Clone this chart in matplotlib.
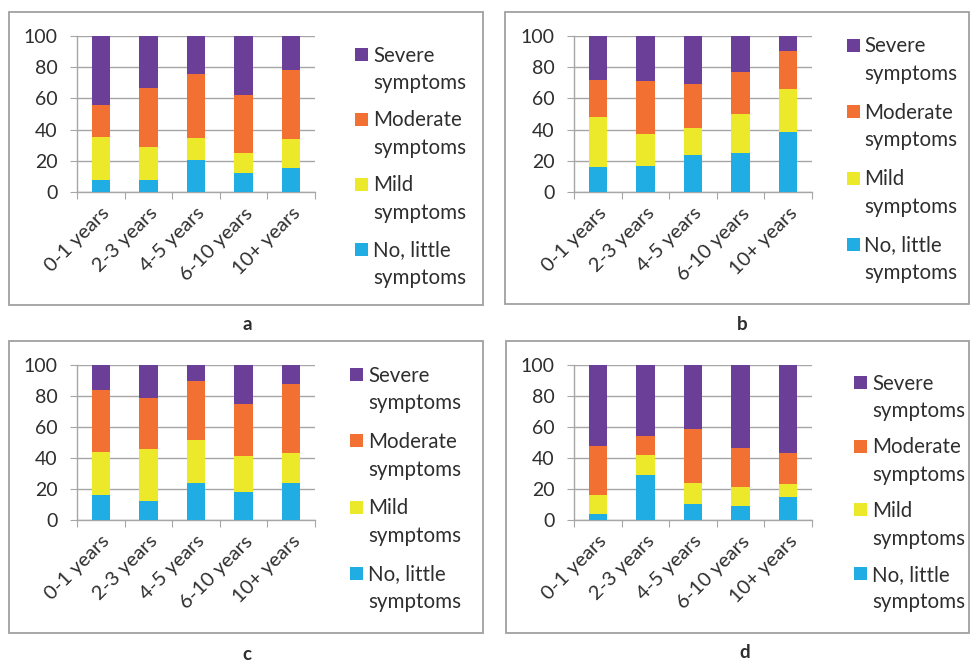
import matplotlib
matplotlib.use("Agg")
import matplotlib.pyplot as plt
from matplotlib.patches import Rectangle

# data: share of respondents (%) per symptom level, stacked bottom to top
categories = ["0-1 years", "2-3 years", "4-5 years", "6-10 years", "10+ years"]
series_names = ["No, little\nsymptoms", "Mild\nsymptoms", "Moderate\nsymptoms", "Severe\nsymptoms"]

no_little_a = [7.5, 8, 20.5, 12, 15.5]
mild_a = [28, 21, 14, 13, 18.5]
moderate_a = [20, 37.5, 41, 37, 44.5]
severe_a = [44.5, 33.5, 24.5, 38, 21.5]

no_little_b = [16, 16.5, 24, 25, 38.5]
mild_b = [32, 21, 17, 25, 27.5]
moderate_b = [24, 33.5, 28, 27, 24.5]
severe_b = [28, 29, 31, 23, 9.5]

no_little_c = [16, 12.5, 24, 18, 24]
mild_c = [28, 33.5, 27.5, 23, 19]
moderate_c = [40, 33, 38, 34, 44.5]
severe_c = [16, 21, 10.5, 25, 12.5]

no_little_d = [4, 29, 10.5, 9, 15]
mild_d = [12, 13, 13.5, 12.5, 8]
moderate_d = [32, 12.5, 34.5, 25, 20.5]
severe_d = [52, 45.5, 41.5, 53.5, 56.5]

panel_labels = ["a", "b", "c", "d"]

colors = ["#1FADE3", "#ECE82A", "#F27032", "#6B3F98"]
text_color = "#2E2E2E"
grid_color = "#A6A6A6"

plt.rcParams['font.family'] = ['Lato', 'DejaVu Sans']

W, H = 972, 661
fig = plt.figure(figsize=(W / 100, H / 100), dpi=100)


def fx(x):
    return x / W


def fy(y):
    return 1 - y / H


def draw_panel(box, ax_box, legend_pos, label_pos, series, letter):
    # grey frame around the panel
    x0, y0, x1, y1 = box
    fig.patches.append(Rectangle((fx(x0), fy(y1)), fx(x1) - fx(x0), fy(y0) - fy(y1),
                                 transform=fig.transFigure, fill=False,
                                 edgecolor="#A0A0A0", linewidth=1.3))

    l, t, r, b = ax_box
    ax = fig.add_axes([fx(l), fy(b), fx(r) - fx(l), fy(t) - fy(b)])
    xs = list(range(len(categories)))
    bottom = [0] * len(categories)
    for vals, col in zip(series, colors):
        ax.bar(xs, vals, width=0.39, bottom=bottom, color=col, zorder=3)
        bottom = [bb + v for bb, v in zip(bottom, vals)]

    ax.set_xlim(-0.5, len(categories) - 0.5)
    ax.set_ylim(0, 100)
    ax.set_yticks(range(0, 101, 20))
    ax.yaxis.grid(True, color=grid_color, linewidth=1.0, zorder=0)
    ax.set_axisbelow(True)
    ax.set_xticks([i - 0.5 for i in range(len(categories) + 1)])
    ax.set_xticklabels([])
    ax.set_xticks(xs, minor=True)
    ax.set_xticklabels(categories, minor=True, rotation=45, ha="right",
                       rotation_mode="anchor", fontsize=14.5, color=text_color)
    ax.tick_params(axis="x", which="minor", length=0, pad=9)
    ax.tick_params(axis="x", which="major", length=5, color=grid_color)
    ax.tick_params(axis="y", length=5, color=grid_color, pad=9,
                   labelsize=14, labelcolor=text_color)
    for s in ["top", "right"]:
        ax.spines[s].set_visible(False)
    for s in ["left", "bottom"]:
        ax.spines[s].set_color(grid_color)
        ax.spines[s].set_linewidth(1.0)

    # legend, drawn by hand so the swatch sits on the first text line
    sq_x, top_y, step, txt_x = legend_pos
    for i, (name, col) in enumerate(zip(series_names[::-1], colors[::-1])):
        ty = top_y + i * step
        fig.patches.append(Rectangle((fx(sq_x), fy(ty + 13)), fx(13), 13 / H,
                                     transform=fig.transFigure, facecolor=col,
                                     edgecolor="none"))
        for j, line in enumerate(name.split("\n")):
            fig.text(fx(txt_x), fy(ty + 13.5 + j * 27.7), line, fontsize=14.8,
                     color=text_color, va="baseline", ha="left")

    fig.text(fx(label_pos[0]), fy(label_pos[1]), letter, fontsize=13.5,
             fontweight="bold", color=text_color, ha="center", va="center")


draw_panel((9, 12, 483, 305), (77, 36, 315, 192), (355, 48, 65, 373), (247, 325),
           [no_little_a, mild_a, moderate_a, severe_a], panel_labels[0])
draw_panel((505, 12, 969, 304), (574, 36, 812, 192), (847, 39, 66.3, 864), (742, 324),
           [no_little_b, mild_b, moderate_b, severe_b], panel_labels[1])
draw_panel((9, 341, 483, 633), (77, 365, 315, 520), (350, 368, 66.3, 368), (247, 654),
           [no_little_c, mild_c, moderate_c, severe_c], panel_labels[2])
draw_panel((506, 341, 969, 633), (574, 365, 812, 520), (854, 376, 63.7, 872), (745, 653),
           [no_little_d, mild_d, moderate_d, severe_d], panel_labels[3])

fig.savefig("out.png", dpi=100)
